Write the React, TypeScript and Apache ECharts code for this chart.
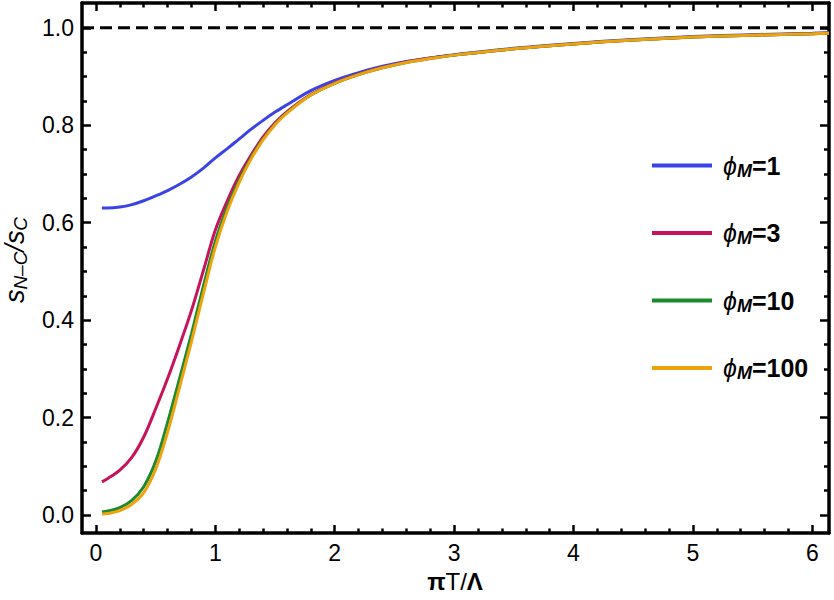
import React, { useEffect, useRef } from "react";
import * as echarts from "echarts";

// Reduced temperature πT/Λ
const xs = [
  0.05, 0.1, 0.2, 0.3, 0.4, 0.5, 0.6, 0.7, 0.8, 0.9, 1.0, 1.1, 1.2, 1.3, 1.4, 1.5,
  1.6, 1.8, 2.0, 2.2, 2.4, 2.6, 2.8, 3.0, 3.5, 4.0, 4.5, 5.0, 5.5, 6.0, 6.14,
];

// Entropy ratio s_{N-C}/s_C for each ϕ_M
const phi1 = [
  0.63, 0.63, 0.632, 0.637, 0.645, 0.655, 0.666, 0.679, 0.694, 0.712, 0.733, 0.752,
  0.772, 0.792, 0.81, 0.827, 0.842, 0.871, 0.892, 0.908, 0.921, 0.931, 0.938, 0.945,
  0.958, 0.968, 0.976, 0.982, 0.986, 0.989, 0.99,
];
const phi3 = [
  0.068, 0.075, 0.092, 0.118, 0.16, 0.218, 0.28, 0.348, 0.42, 0.502, 0.585, 0.645,
  0.697, 0.739, 0.776, 0.805, 0.828, 0.863, 0.887, 0.905, 0.919, 0.93, 0.938, 0.944,
  0.957, 0.967, 0.975, 0.981, 0.985, 0.988, 0.989,
];
const phi10 = [
  0.006, 0.008, 0.015, 0.03, 0.058, 0.11, 0.19, 0.28, 0.372, 0.47, 0.562, 0.632,
  0.688, 0.734, 0.772, 0.802, 0.826, 0.862, 0.886, 0.904, 0.918, 0.929, 0.937, 0.944,
  0.957, 0.967, 0.975, 0.981, 0.985, 0.988, 0.989,
];
const phi100 = [
  0.002, 0.003, 0.009, 0.022, 0.046, 0.094, 0.17, 0.262, 0.356, 0.455, 0.55, 0.624,
  0.683, 0.731, 0.77, 0.801, 0.825, 0.862, 0.886, 0.904, 0.918, 0.929, 0.937, 0.944,
  0.957, 0.967, 0.975, 0.981, 0.985, 0.988, 0.989,
];

const seriesNames = ["1", "3", "10", "100"];
const seriesColors = ["#3a44e6", "#c8125c", "#1c8a2e", "#eea20e"];

const xMajorTicks = [0, 1, 2, 3, 4, 5, 6];
const xMinorTicks = [
  0.2, 0.4, 0.6, 0.8, 1.2, 1.4, 1.6, 1.8, 2.2, 2.4, 2.6, 2.8, 3.2, 3.4, 3.6, 3.8,
  4.2, 4.4, 4.6, 4.8, 5.2, 5.4, 5.6, 5.8,
];
const yMajorTicks = [0, 0.2, 0.4, 0.6, 0.8, 1.0];
const yMinorTicks = [
  0.05, 0.1, 0.15, 0.25, 0.3, 0.35, 0.45, 0.5, 0.55, 0.65, 0.7, 0.75, 0.85, 0.9, 0.95,
];

const X_MIN = -0.117;
const X_MAX = 6.14;
const Y_MIN = -0.037;
const Y_MAX = 1.051;

const FONT = "Liberation Sans, Arial, Helvetica, sans-serif";

// Grid 0 carries the frame, major ticks and labels; grid 1 (same rectangle) carries the minor ticks.
function xAxisDef(g: number, pos: string, len: number, ticks: number[]) {
  return {
    type: "value",
    gridIndex: g,
    position: pos,
    min: X_MIN,
    max: X_MAX,
    splitLine: { show: false },
    axisLine: { show: g === 0, onZero: false, lineStyle: { color: "#000", width: 3.5 } },
    axisTick: {
      show: true,
      inside: true,
      length: len,
      customValues: ticks,
      lineStyle: { color: "#000", width: 2.5 },
    },
    axisLabel: {
      show: g === 0 && pos === "bottom",
      customValues: xMajorTicks,
      formatter: (v: number) => String(Math.round(v)),
      fontSize: 23,
      color: "#000",
      fontFamily: FONT,
    },
  };
}

function yAxisDef(g: number, pos: string, len: number, ticks: number[]) {
  return {
    type: "value",
    gridIndex: g,
    position: pos,
    min: Y_MIN,
    max: Y_MAX,
    splitLine: { show: false },
    axisLine: { show: g === 0, onZero: false, lineStyle: { color: "#000", width: 3.5 } },
    axisTick: {
      show: true,
      inside: true,
      length: len,
      customValues: ticks,
      lineStyle: { color: "#000", width: 2.5 },
    },
    axisLabel: {
      show: g === 0 && pos === "left",
      customValues: yMajorTicks,
      formatter: (v: number) => v.toFixed(1),
      fontSize: 23,
      color: "#000",
      fontFamily: FONT,
    },
  };
}

export default function App() {
  const ref = useRef<HTMLDivElement>(null);

  useEffect(() => {
    if (!ref.current) return;
    const chart = echarts.init(ref.current, null, { renderer: "svg" });

    const curves = [phi1, phi3, phi10, phi100].map((ys, i) => ({
      name: `ϕM=${seriesNames[i]}`,
      type: "line",
      xAxisIndex: 0,
      yAxisIndex: 0,
      data: xs.map((x, k) => [x, ys[k]]),
      smooth: 0.35,
      symbol: "none",
      color: seriesColors[i],
      lineStyle: { width: 3 },
      z: 3 + i,
    }));

    chart.setOption({
      animation: false,
      grid: [
        { left: 82, right: 5, top: 3, bottom: 67 },
        { left: 82, right: 5, top: 3, bottom: 67 },
      ],
      xAxis: [
        xAxisDef(0, "bottom", 8, xMajorTicks),
        xAxisDef(0, "top", 8, xMajorTicks),
        xAxisDef(1, "bottom", 4.5, xMinorTicks),
        xAxisDef(1, "top", 4.5, xMinorTicks),
      ],
      yAxis: [
        yAxisDef(0, "left", 9, yMajorTicks),
        yAxisDef(0, "right", 9, yMajorTicks),
        yAxisDef(1, "left", 5, yMinorTicks),
        yAxisDef(1, "right", 5, yMinorTicks),
      ],
      legend: {
        orient: "vertical",
        left: 647,
        top: 148,
        itemWidth: 60,
        itemHeight: 4,
        itemGap: 41,
        icon: "rect",
        data: curves.map((c) => c.name),
        formatter: (name: string) => `{phi|ϕ}{sub|M}{eq|=${name.split("=")[1]}}`,
        textStyle: {
          padding: [0, 0, 0, 6],
          rich: {
            phi: { fontFamily: FONT, fontSize: 25, fontStyle: "italic", color: "#000" },
            sub: {
              fontFamily: FONT,
              fontSize: 18,
              fontStyle: "italic",
              fontWeight: "bold",
              color: "#000",
              padding: [10, 0, 0, 0],
            },
            eq: { fontFamily: FONT, fontSize: 25, fontWeight: "bold", color: "#000" },
          },
        },
      },
      graphic: [
        {
          type: "text",
          x: 15,
          y: 260,
          rotation: Math.PI / 2,
          style: {
            text: "{s|s}{sub|N–C}{s|/s}{sub|C}",
            align: "center",
            verticalAlign: "middle",
            rich: {
              s: { fontFamily: FONT, fontSize: 27, fontStyle: "italic", color: "#000" },
              sub: {
                fontFamily: FONT,
                fontSize: 19,
                fontStyle: "italic",
                color: "#000",
                padding: [11, 0, 0, 0],
              },
            },
          },
        },
        {
          type: "text",
          x: 455,
          y: 581,
          style: {
            text: "{b|π}{r|T/}{b|Λ}",
            align: "center",
            verticalAlign: "middle",
            rich: {
              b: { fontFamily: FONT, fontSize: 24, fontWeight: "bold", color: "#000" },
              r: { fontFamily: FONT, fontSize: 24, color: "#000" },
            },
          },
        },
      ],
      series: [
        {
          name: "limit",
          type: "line",
          xAxisIndex: 0,
          yAxisIndex: 0,
          data: [
            [X_MIN, 1],
            [X_MAX, 1],
          ],
          symbol: "none",
          lineStyle: { color: "#000", width: 3, type: [12, 6] },
          z: 2,
        },
        ...curves,
      ],
    });

    return () => chart.dispose();
  }, []);

  return (
    <div ref={ref} style={{ position: "absolute", left: 0, top: 0, width: 834, height: 600 }} />
  );
}
